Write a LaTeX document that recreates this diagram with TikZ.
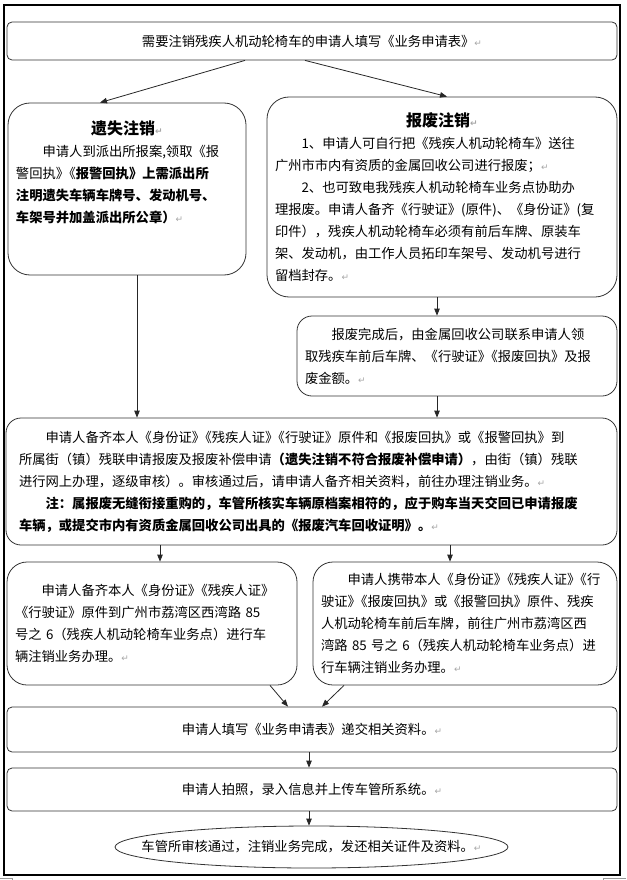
\documentclass[tikz,border=0pt]{standalone}
\usepackage{fontspec}
\setmainfont{Noto Sans CJK SC}
\newfontfamily\markfont{DejaVu Sans}
\usepackage{tikz}
\usetikzlibrary{arrows.meta, positioning, shapes.geometric}

\newcommand\bodyfont{\fontsize{13.3}{22}\selectfont}
\newcommand\titlefont{\fontsize{16}{24}\selectfont\bfseries}
\newcommand\parmark{{\markfont\fontsize{9}{9}\selectfont\color{black!35}↵}}
\newcommand\qq{》\kern-.5em《}

\tikzset{
	flowbox/.style={draw=black!80, line width=0.8pt, inner xsep=8pt, inner ysep=0pt, font=\bodyfont}
}
\tikzset{
	flowarrow/.style={draw=black!85, line width=0.8pt, -{Triangle[length=7pt,width=5.5pt]}}
}
\tikzset{
	markline/.style={draw=black!40, line width=0.8pt}
}

\begin{document}
\begin{tikzpicture}[x=1pt, y=-1pt]

			\useasboundingbox (0,0) rectangle (626,880);
			\draw[line width=1.1pt] (4,5) rectangle (620,875);
			\draw[markline] (0,878) -- (12,878) -- (12,880);
			\draw[markline] (626,878) -- (603,878) -- (603,880);

			\begin{scope}
				\node[flowbox, rounded corners=5pt, minimum width=610pt, minimum height=38pt, align=center]
					(top) at (312,41) {需要注销残疾人机动轮椅车的申请人填写《业务申请表》\parmark};

				\node[flowbox, rounded corners=22pt, minimum width=238pt, minimum height=172pt, text width=222pt, align=left]
					(lost) at (127,189) {{\centering\titlefont 遗失注销\parmark\par}\hspace*{2em}申请人到派出所报案,领取《报\\警回执\qq\textbf{报警回执》上需派出所}\\\textbf{注明遗失车辆车牌号、发动机号、}\\\textbf{车架号并加盖派出所公章）}\parmark\\[12pt]\mbox{}};

				\node[flowbox, rounded corners=22pt, minimum width=350pt, minimum height=200pt, text width=334pt, align=left]
					(scrap) at (442,197) {{\centering\titlefont 报废注销\parmark\par}\hspace*{2em}1、申请人可自行把《残疾人机动轮椅车》送往\\广州市市内有资质的金属回收公司进行报废；\parmark\\\hspace*{2em}2、也可致电我残疾人机动轮椅车业务点协助办\\理报废。申请人备齐《行驶证》(原件)、《身份证》(复\\印件），残疾人机动轮椅车必须有前后车牌、原装车\\架、发动机，由工作人员拓印车架号、发动机号进行\\留档封存。\parmark};

				\node[flowbox, rounded corners=15pt, minimum width=320pt, minimum height=80pt, text width=304pt, align=left]
					(done) at (457,356) {\hspace*{2em}报废完成后，由金属回收公司联系申请人领\\取残疾车前后车牌、《行驶证\qq 报废回执》及报\\废金额。\parmark};
			\end{scope}

			\begin{scope}
				\node[flowbox, rounded corners=15pt, minimum width=611pt, minimum height=127pt, text width=585pt, inner xsep=13pt, align=left]
					(apply) at (311.5,481.5) {\hspace*{2em}申请人备齐本人《身份证\qq 残疾人证\qq 行驶证》原件和《报废回执》或《报警回执》到\\所属街（镇）残联申请报废及报废补偿申请\textbf{（遗失注销不符合报废补偿申请）}，由街（镇）残联\\进行网上办理，逐级审核）。审核通过后，请申请人备齐相关资料，前往办理注销业务。\parmark\\\hspace*{2em}\textbf{注：属报废无缝衔接重购的，车管所核实车辆原档案相符的，应于购车当天交回已申请报废}\\\textbf{车辆，或提交市内有资质金属回收公司出具的《报废汽车回收证明》。}\parmark};

				\node[flowbox, rounded corners=20pt, minimum width=290pt, minimum height=123pt, text width=274pt, align=left]
					(self) at (152,623.5) {\hspace*{2em}申请人备齐本人《身份证\qq 残疾人证》\\《行驶证》原件到广州市荔湾区西湾路 85\\号之 6（残疾人机动轮椅车业务点）进行车\\辆注销业务办理。\parmark};

				\node[flowbox, rounded corners=20pt, minimum width=304pt, minimum height=123pt, text width=288pt, align=left]
					(carry) at (465,623.5) {\hspace*{2em}申请人携带本人《身份证\qq 残疾人证\qq 行\\驶证\qq 报废回执》或《报警回执》原件、残疾\\人机动轮椅车前后车牌，前往广州市荔湾区西\\湾路 85 号之 6（残疾人机动轮椅车业务点）进\\行车辆注销业务办理。\parmark};
			\end{scope}

			\begin{scope}
				\node[flowbox, rounded corners=5pt, minimum width=610pt, minimum height=45pt, align=center]
					(form) at (312,729.5) {申请人填写《业务申请表》递交相关资料。\parmark};

				\node[flowbox, rounded corners=5pt, minimum width=610pt, minimum height=43pt, align=center]
					(photo) at (312,789.5) {申请人拍照，录入信息并上传车管所系统。\parmark};

				\node[flowbox, ellipse, inner sep=0pt, minimum width=393pt, minimum height=42pt,
					label={[font=\bodyfont]center:车管所审核通过，注销业务完成，发还相关证件及资料。\parmark}]
					(finish) at (311.5,847) {};
			\end{scope}

			\begin{scope}
				\draw[flowarrow] ([xshift=-67pt]top.south) -- ([xshift=-27pt]lost.north);
				\draw[flowarrow] ([xshift=-7pt]top.south) -- ([xshift=5pt]scrap.north);

				\draw[flowarrow] ([xshift=10pt]lost.south) -- ([xshift=10pt]lost.south |- apply.north);
				\draw[flowarrow] ([xshift=-5pt]scrap.south) -- ([xshift=-5pt]scrap.south |- done.north);
				\draw[flowarrow] ([xshift=-20pt]done.south) -- ([xshift=-20pt]done.south |- apply.north);

				\draw[flowarrow] ([xshift=8pt]self.north |- apply.south) -- ([xshift=8pt]self.north);
				\draw[flowarrow] ([xshift=-15pt]carry.north |- apply.south) -- ([xshift=-15pt]carry.north);

				\draw[flowarrow] ([xshift=118pt]self.south) -- ([xshift=-24pt]form.north);
				\draw[flowarrow] ([xshift=-121pt]carry.south) -- ([xshift=10pt]form.north);

				\draw[flowarrow] ([xshift=-3pt]form.south) -- ([xshift=-3pt]form.south |- photo.north);
				\draw[flowarrow] ([xshift=-3pt]photo.south) -- ([xshift=-3pt]photo.south |- finish.north);
			\end{scope}

\end{tikzpicture}
\end{document}
